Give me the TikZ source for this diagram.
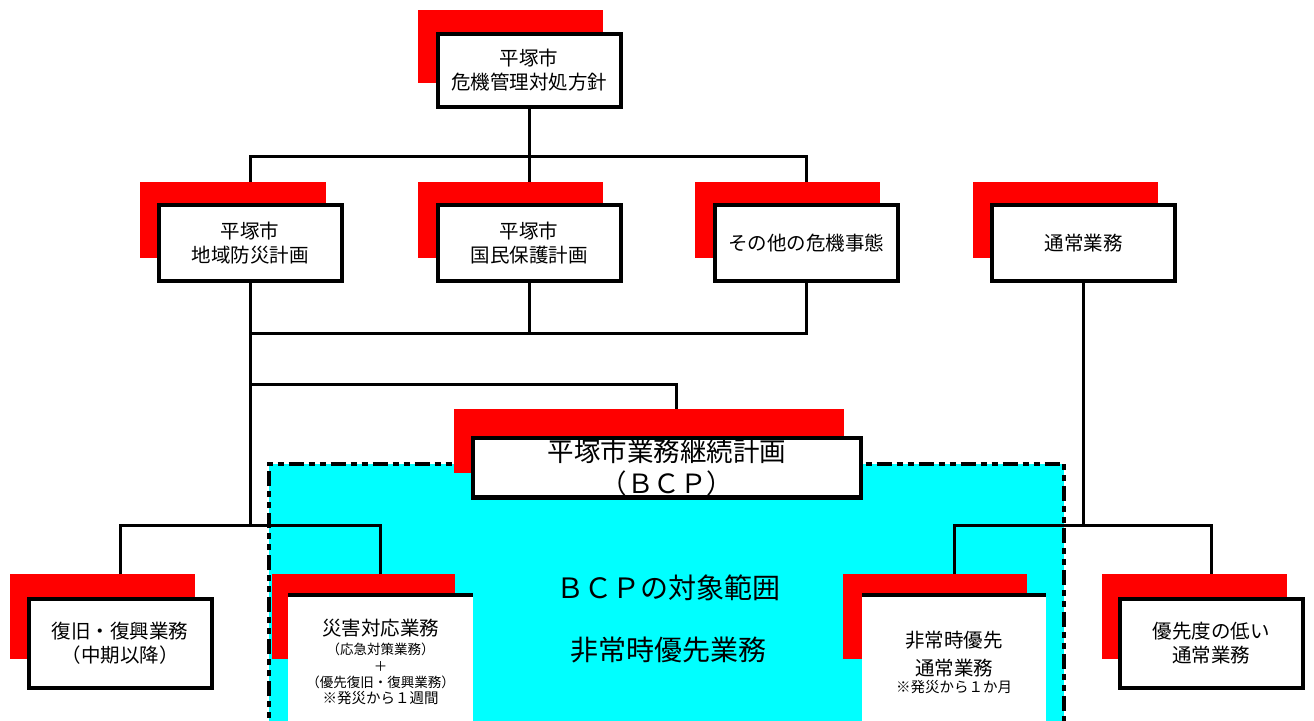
\documentclass[tikz,border=0pt]{standalone}
\usepackage{fontspec}
\setmainfont{Noto Sans CJK JP}
\definecolor{scopecyan}{RGB}{0,255,255}
\definecolor{shadowred}{RGB}{255,0,0}
\begin{document}
\begin{tikzpicture}[x=1pt,y=-1pt,
  box/.style={draw=black,line width=4pt,fill=white,inner sep=0pt,align=center,
    minimum width=183pt,font=\fontsize{19.5}{24}\selectfont},
  openbox/.style={draw=none,fill=white,inner sep=0pt,align=center,
    minimum height=130pt},
  conn/.style={draw=black,line width=3pt},
  shadow/.style={fill=shadowred},
  scopebox/.style={fill=scopecyan},
  scopeline/.style={draw=black,line width=4pt,dash pattern=on 15pt off 5pt on 6pt off 5pt on 6pt off 5pt},
  bigtext/.style={inner sep=0pt,font=\fontsize{28}{32}\selectfont}]
\useasboundingbox (0,0) rectangle (1314,720);
\clip (0,0) rectangle (1314,720);
% BCP scope region
\fill[scopebox] (269,463.5) rectangle (1064,780);
\draw[scopeline] (269,780) -- (269,463.5) -- (1064,463.5) -- (1064,780);
% nodes (placed first, drawn again on top below)
\node[box,minimum height=73pt] (top) at (529,70.5) {};
\node[box,minimum height=76pt] (b1) at (250,243) {};
\node[box,minimum height=76pt] (b2) at (529,243) {};
\node[box,minimum height=76pt] (b3) at (806,243) {};
\node[box,minimum height=76pt] (b4) at (1083.5,243) {};
\node[box,minimum width=388pt,minimum height=59pt] (bcp) at (667,468.5) {};
\node[box,minimum height=89pt] (bA) at (120,643.5) {};
\node[openbox,minimum width=185pt] (bB) at (380.5,662) {};
\node[openbox,minimum width=184pt] (bC) at (954,662) {};
\node[box,minimum height=89pt] (bD) at (1211,643.5) {};
% junctions
\coordinate (j1) at (529,156);
\coordinate (j2) at (250,333);
\coordinate (j3) at (250,384);
\coordinate (j4) at (250,525);
\coordinate (j5) at (1083.5,525);
% connectors
\draw[conn] (top.south) -- (b2.north);
\draw[conn] (b1.north) |- (j1) -| (b3.north);
\draw[conn] (b1.south) -- (j4);
\draw[conn] (b2.south) |- (j2);
\draw[conn] (b3.south) |- (j2);
\draw[conn] (j3) -| ([xshift=9pt]bcp.north);
\draw[conn] (bA.north) |- (j4) -| (bB.north);
\draw[conn] (b4.south) -- (j5);
\draw[conn] (bC.north) |- (j5) -| (bD.north);
% red shadows
\fill[shadow] (418,10) rectangle (603,83);
\fill[shadow] (140,182) rectangle (326,258);
\fill[shadow] (418,182) rectangle (603,258);
\fill[shadow] (695,182) rectangle (880,258);
\fill[shadow] (973,182) rectangle (1158,258);
\fill[shadow] (454,409) rectangle (844,473);
\fill[shadow] (10,574) rectangle (195,659);
\fill[shadow] (272,574) rectangle (455,659);
\fill[shadow] (843,574) rectangle (1027,659);
\fill[shadow] (1102,574) rectangle (1287,659);
% boxes with text
\node[box,minimum height=73pt] at (top) {平塚市\\危機管理対処方針};
\node[box,minimum height=76pt] at (b1) {平塚市\\地域防災計画};
\node[box,minimum height=76pt] at (b2) {平塚市\\国民保護計画};
\node[box,minimum height=76pt] at (b3) {その他の危機事態};
\node[box,minimum height=76pt] at (b4) {通常業務};
\node[box,minimum width=388pt,minimum height=59pt,font=\fontsize{26.5}{32}\selectfont] at ([yshift=1pt]bcp) {平塚市業務継続計画\\（ＢＣＰ）};
\node[box,minimum height=89pt] at (bA) {復旧・復興業務\\（中期以降）};
\node[openbox,minimum width=185pt,font=\fontsize{13.5}{16}\selectfont] at (bB)
  {{\fontsize{19.5}{22}\selectfont 災害対応業務}\\[3pt]（応急対策業務）\\[1pt]＋\\（優先復旧・復興業務）\\{\fontsize{14.5}{16}\selectfont ※発災から１週間}};
\draw[line width=4pt] ([yshift=2pt]bB.north west) -- ([yshift=2pt]bB.north east);
\node[openbox,minimum width=184pt,font=\fontsize{14.5}{17}\selectfont] at (bC)
  {{\fontsize{19.5}{22}\selectfont 非常時優先}\\[9pt]{\fontsize{19.5}{22}\selectfont 通常業務}\\※発災から１か月};
\draw[line width=4pt] ([yshift=2pt]bC.north west) -- ([yshift=2pt]bC.north east);
\node[box,minimum height=89pt] at (bD) {優先度の低い\\通常業務};
% scope labels
\node[bigtext] (scopetitle) at (668,588) {ＢＣＰの対象範囲};
\node[bigtext] (scopesub) at (668,650) {非常時優先業務};
\end{tikzpicture}
\end{document}
